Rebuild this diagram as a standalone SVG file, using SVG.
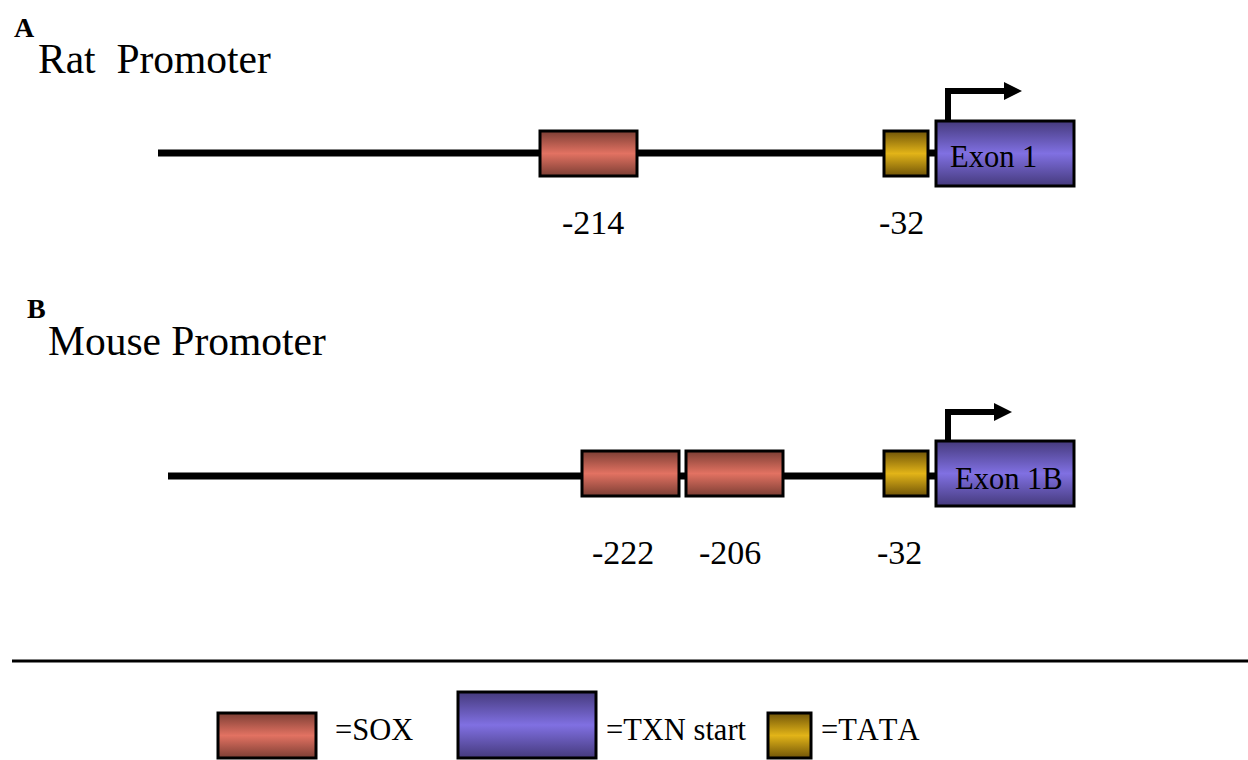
<svg xmlns="http://www.w3.org/2000/svg" width="1248" height="760" viewBox="0 0 1248 760">
  <defs>
    <linearGradient id="gSox" x1="0" y1="0" x2="0" y2="1">
      <stop offset="0" stop-color="#7c3e34"/>
      <stop offset="0.5" stop-color="#e27262"/>
      <stop offset="1" stop-color="#7c3e34"/>
    </linearGradient>
    <linearGradient id="gExon" x1="0" y1="0" x2="0" y2="1">
      <stop offset="0" stop-color="#453a7c"/>
      <stop offset="0.5" stop-color="#8070e2"/>
      <stop offset="1" stop-color="#453a7c"/>
    </linearGradient>
    <linearGradient id="gTata" x1="0" y1="0" x2="0" y2="1">
      <stop offset="0" stop-color="#715508"/>
      <stop offset="0.5" stop-color="#e2b418"/>
      <stop offset="1" stop-color="#715508"/>
    </linearGradient>
    <marker id="arrowHead" viewBox="0 0 10 10" refX="0" refY="5" markerUnits="userSpaceOnUse" markerWidth="18" markerHeight="18" orient="auto">
      <path d="M0,0 L10,5 L0,10 Z" fill="#000"/>
    </marker>
  </defs>
  <style>
    .dna { stroke: #000; stroke-width: 7; fill: none; }
    .sox { fill: url(#gSox); stroke: #000; stroke-width: 3; }
    .exon { fill: url(#gExon); stroke: #000; stroke-width: 3; }
    .tata { fill: url(#gTata); stroke: #000; stroke-width: 3; }
    .tss { stroke: #000; stroke-width: 6; fill: none; }
    text { font-family: "Liberation Serif", "Times New Roman", serif; fill: #000; font-kerning: none; }
    .panel { font-size: 28px; font-weight: bold; }
    .title { font-size: 41.5px; }
    .pos { font-size: 34px; }
    .exlabel { font-size: 30.5px; }
    .legend { font-size: 30.5px; }
  </style>

  <rect width="1248" height="760" fill="#fff"/>

  <!-- Panel A: rat promoter -->
  <text class="panel" x="14" y="37">A</text>
  <text class="title" x="38" y="73" xml:space="preserve">Rat  Promoter</text>

  <g id="connectors">
    <line class="dna" x1="158" y1="153" x2="936" y2="153"/>
    <line class="dna" x1="168" y1="476" x2="936" y2="476"/>
    <polyline class="tss" points="948,121 948,91 1004,91" marker-end="url(#arrowHead)"/>
    <polyline class="tss" points="948,441 948,412 994,412" marker-end="url(#arrowHead)"/>
  </g>

  <g id="rat-sox">
    <rect class="sox" x="540" y="131" width="97" height="45"/>
    <text class="pos" x="562" y="234">-214</text>
  </g>
  <g id="rat-tata">
    <rect class="tata" x="884" y="131" width="44" height="45"/>
    <text class="pos" x="879" y="234">-32</text>
  </g>
  <g id="rat-exon">
    <rect class="exon" x="936" y="121" width="138" height="65"/>
    <text class="exlabel" x="950" y="167">Exon 1</text>
  </g>

  <!-- Panel B: mouse promoter -->
  <text class="panel" x="27" y="318">B</text>
  <text class="title" x="48" y="355">Mouse Promoter</text>

  <g id="mouse-sox1">
    <rect class="sox" x="582" y="451" width="97" height="45"/>
    <text class="pos" x="592" y="564">-222</text>
  </g>
  <g id="mouse-sox2">
    <rect class="sox" x="686" y="451" width="97" height="45"/>
    <text class="pos" x="699" y="564">-206</text>
  </g>
  <g id="mouse-tata">
    <rect class="tata" x="884" y="451" width="44" height="45"/>
    <text class="pos" x="877" y="564">-32</text>
  </g>
  <g id="mouse-exon">
    <rect class="exon" x="936" y="441" width="138" height="65"/>
    <text class="exlabel" x="955" y="489">Exon 1B</text>
  </g>

  <!-- Separator -->
  <line x1="12" y1="661" x2="1248" y2="661" stroke="#000" stroke-width="3"/>

  <!-- Key -->
  <g id="key-sox">
    <rect class="sox" x="218" y="713" width="98" height="45"/>
    <text class="legend" x="335" y="740">=SOX</text>
  </g>
  <g id="key-txn">
    <rect class="exon" x="458" y="692" width="138" height="66"/>
    <text class="legend" x="606" y="740">=TXN start</text>
  </g>
  <g id="key-tata">
    <rect class="tata" x="768" y="713" width="43" height="45"/>
    <text class="legend" x="821" y="740">=TATA</text>
  </g>
</svg>
